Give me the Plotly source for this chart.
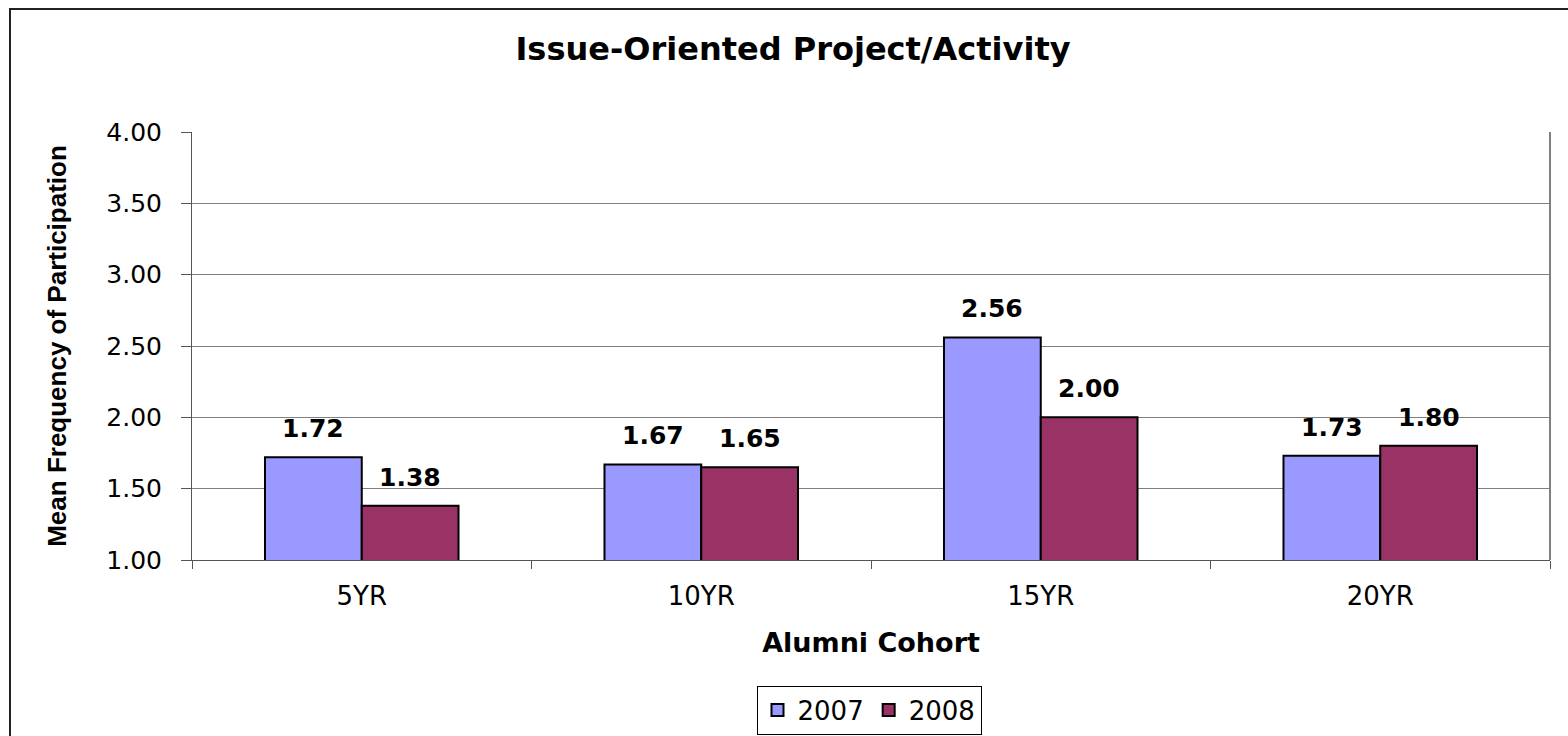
import plotly.graph_objects as go

categories = ["5YR", "10YR", "15YR", "20YR"]
series_names = ["2007", "2008"]
values_2007 = [1.72, 1.67, 2.56, 1.73]
values_2008 = [1.38, 1.65, 2.00, 1.80]
colors = ["#9999FF", "#993366"]

W, H = 1568, 736
L, T = 192, 132
R = W - 1550
B = H - 560
pw, ph = W - L - R, H - T - B
BARGAP = 0.43
FONT = "DejaVu Sans, Verdana, sans-serif"


def px_x(x):
    return (x - L) / pw


def px_y(y):
    return (H - B - y) / ph


fig = go.Figure()
for name, vals, col in zip(series_names, [values_2007, values_2008], colors):
    fig.add_trace(go.Bar(
        name=name, x=categories, y=vals,
        marker=dict(color=col, line=dict(color="#000000", width=2)),
        cliponaxis=False,
    ))

# data labels above bars
bar_px = pw / len(categories) * (1 - BARGAP) / 2
for i, vals in enumerate([values_2007, values_2008]):
    shift = (i - 0.5) * bar_px
    for c, v in zip(categories, vals):
        fig.add_annotation(x=c, y=v, text=f"<b>{v:.2f}</b>", showarrow=False,
                           xshift=shift, yshift=12, yanchor="bottom",
                           font=dict(family=FONT, size=25, color="#000000"))

fig.add_shape(type="rect", xref="paper", yref="paper",
              x0=px_x(10), x1=px_x(1600), y0=px_y(9), y1=px_y(780),
              line=dict(color="#222222", width=2), fillcolor="rgba(0,0,0,0)", layer="below")

fig.update_layout(
    width=W, height=H,
    margin=dict(l=L, r=R, t=T, b=B, pad=0, autoexpand=False),
    paper_bgcolor="white", plot_bgcolor="white",
    barmode="group", bargap=BARGAP, bargroupgap=0,
    title=dict(text="<b>Issue-Oriented Project/Activity</b>", xref="container", x=793 / W,
               xanchor="center", yref="container", y=1 - 49 / H, yanchor="middle",
               font=dict(family=FONT, size=32, color="#000000")),
    font=dict(family=FONT, color="#000000"),
    showlegend=True,
    legend=dict(orientation="h", x=px_x(869), y=px_y(710), xanchor="center", yanchor="middle",
                bordercolor="#000000", borderwidth=1, bgcolor="white",
                font=dict(size=26, family=FONT),
                itemwidth=30, traceorder="normal"),
)
fig.update_xaxes(
    showline=True, linecolor="#555555", linewidth=1, mirror=False,
    ticks="outside", tickson="boundaries", ticklen=8, tickcolor="#555555",
    tickfont=dict(size=26, family=FONT, color="#000000"),
    ticklabelstandoff=13,
    title=dict(text="<b>Alumni Cohort</b>", font=dict(size=27, family=FONT), standoff=22),
)
fig.update_yaxes(
    range=[1, 4], dtick=0.5, tickformat=".2f",
    showgrid=True, gridcolor="#808080", gridwidth=1,
    showline=True, linecolor="#555555", linewidth=1, mirror=False,
    ticks="outside", ticklen=10, tickcolor="#555555",
    tickfont=dict(size=25, family=FONT, color="#000000"),
    ticklabelstandoff=14,
    title=dict(text="<b>Mean Frequency of Participation</b>",
               font=dict(size=26, family="Liberation Sans, Arial, sans-serif"), standoff=32),
)
# plot area right border
fig.add_shape(type="line", xref="paper", yref="paper", x0=1, x1=1, y0=0, y1=1,
              line=dict(color="#808080", width=2))

fig.write_html(
    "out.html",
    config={"displayModeBar": False},
    post_script="document.body.style.margin='0';document.documentElement.style.overflow='hidden';",
)
